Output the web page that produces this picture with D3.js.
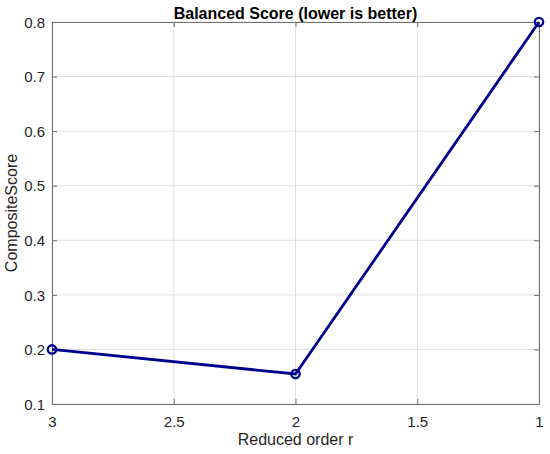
<!DOCTYPE html>
<html><head><meta charset="utf-8">
<script src="https://cdn.jsdelivr.net/npm/d3@7"></script>
<style>body{margin:0;background:#fff;} svg{display:block;}</style>
</head><body>
<svg id="c" width="550" height="454"></svg>
<script>
const orders = [3, 2, 1];
const scores = [0.2, 0.155, 0.8];
const xTicks = [3, 2.5, 2, 1.5, 1];
const yTicks = [0.1, 0.2, 0.3, 0.4, 0.5, 0.6, 0.7, 0.8];
const titleText = "Balanced Score (lower is better)";
const xLabel = "Reduced order r";
const yLabel = "CompositeScore";

const svg = d3.select("#c");
const L = 52, R = 539, T = 22, B = 404;
const x = d3.scaleLinear().domain([3, 1]).range([L, R]);
const y = d3.scaleLinear().domain([0.1, 0.8]).range([B, T]);
const font = "'Liberation Sans', Arial, Helvetica, sans-serif";
const txt = "#262626";
const boxC = "#6f6f6f";

// grid
svg.append("g").selectAll("line").data(xTicks).join("line")
  .attr("x1", d => x(d)).attr("x2", d => x(d)).attr("y1", T).attr("y2", B)
  .attr("stroke", "#e0e0e0").attr("stroke-width", 1);
svg.append("g").selectAll("line").data(yTicks).join("line")
  .attr("y1", d => y(d)).attr("y2", d => y(d)).attr("x1", L).attr("x2", R)
  .attr("stroke", "#e0e0e0").attr("stroke-width", 1);

// axes
const ax = d3.axisBottom(x).tickValues(xTicks).tickFormat(d3.format("")).tickSizeInner(-5).tickSizeOuter(0).tickPadding(12);
const gx = svg.append("g").attr("transform", `translate(0,${B})`).call(ax);
const axT = d3.axisTop(x).tickValues(xTicks).tickFormat("").tickSizeInner(-5).tickSizeOuter(0);
const gxt = svg.append("g").attr("transform", `translate(0,${T})`).call(axT);
const ay = d3.axisLeft(y).tickValues(yTicks).tickFormat(d3.format("")).tickSizeInner(-5).tickSizeOuter(0).tickPadding(7);
const gy = svg.append("g").attr("transform", `translate(${L},0)`).call(ay);
const ayR = d3.axisRight(y).tickValues(yTicks).tickFormat("").tickSizeInner(-5).tickSizeOuter(0);
const gyr = svg.append("g").attr("transform", `translate(${R},0)`).call(ayR);
[gx, gxt, gy, gyr].forEach(g => {
  g.selectAll(".domain").attr("stroke", boxC).attr("stroke-width", 1);
  g.selectAll(".tick line").attr("stroke", boxC);
  g.selectAll("text").attr("fill", txt).style("font-family", font).style("font-size", "15px");
});
gy.selectAll(".tick text").attr("dy", "0.35em");

// line
const pts = orders.map((o, i) => [o, scores[i]]);
svg.append("path").datum(pts)
  .attr("d", d3.line().x(d => x(d[0])).y(d => y(d[1])))
  .attr("fill", "none").attr("stroke", "#00008f").attr("stroke-width", 2.8);
svg.append("g").selectAll("circle").data(pts).join("circle")
  .attr("cx", d => x(d[0])).attr("cy", d => y(d[1])).attr("r", 4.2)
  .attr("fill", "none").attr("stroke", "#00008f").attr("stroke-width", 2.3);

// texts
svg.append("text").attr("x", (L + R) / 2).attr("y", 18.5).attr("text-anchor", "middle")
  .style("font-family", font).style("font-size", "16px").style("font-weight", "bold").attr("fill", "#000").text(titleText);
svg.append("text").attr("x", (L + R) / 2).attr("y", 445).attr("text-anchor", "middle")
  .style("font-family", font).style("font-size", "16px").attr("fill", txt).text(xLabel);
svg.append("text").attr("transform", `translate(17,${(T + B) / 2}) rotate(-90)`).attr("text-anchor", "middle")
  .style("font-family", font).style("font-size", "16px").attr("fill", txt).text(yLabel);
</script>
</body></html>
